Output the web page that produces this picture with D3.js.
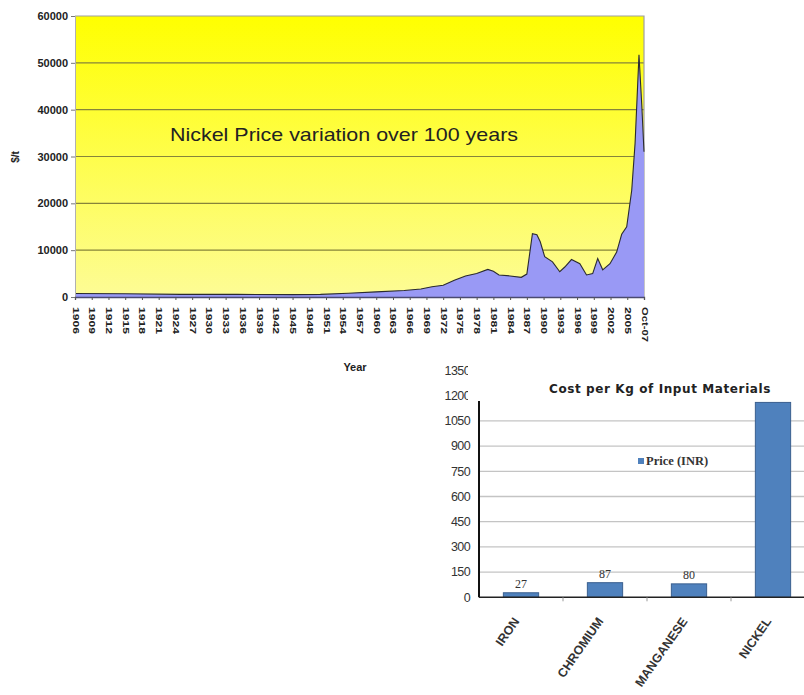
<!DOCTYPE html>
<html>
<head>
<meta charset="utf-8">
<script src="https://cdn.jsdelivr.net/npm/d3@7"></script>
<style>
  body { margin: 0; background: #fff; }
  svg { display: block; }
</style>
</head>
<body>
<svg id="chart" width="804" height="695"></svg>
<script>
// ---- Nickel price, $/t (decimal years; the last points are monthly-ish)
const priceYears = [1906, 1915, 1925, 1935, 1945, 1950, 1955, 1960, 1965, 1968, 1970, 1972, 1974, 1976, 1978, 1980, 1981, 1982, 1984, 1986, 1987, 1988, 1988.8, 1989.4, 1990.2, 1991.6, 1992.9, 1993.8, 1995, 1996.5, 1997.7, 1998.8, 1999.7, 2000.6, 2001.9, 2003.1, 2004, 2004.9, 2005.8, 2006.4, 2007.1, 2007.6, 2008];
const priceValues = [750, 700, 550, 560, 500, 550, 800, 1100, 1400, 1700, 2200, 2500, 3600, 4500, 5000, 5900, 5500, 4700, 4500, 4200, 4900, 13500, 13300, 11800, 8600, 7500, 5400, 6400, 8000, 7100, 4700, 5000, 8200, 5800, 7100, 9600, 13400, 15000, 22800, 32800, 51700, 41000, 31000];

// ---- Year axis tick positions and their labels
const yearTickPos = [1906, 1909, 1912, 1915, 1918, 1921, 1924, 1927, 1930, 1933, 1936, 1939, 1942, 1945, 1948, 1951, 1954, 1957, 1960, 1963, 1966, 1969, 1972, 1975, 1978, 1981, 1984, 1987, 1990, 1993, 1996, 1999, 2002, 2005, 2008];
const yearTickLabels = ["1906", "1909", "1912", "1915", "1918", "1921", "1924", "1927", "1930", "1933", "1936", "1939", "1942", "1945", "1948", "1951", "1954", "1957", "1960", "1963", "1966", "1969", "1972", "1975", "1978", "1981", "1984", "1987", "1990", "1993", "1996", "1999", "2002", "2005", "Oct-07"];
const priceTicks = [0, 10000, 20000, 30000, 40000, 50000, 60000];

// ---- Cost per kg of input materials (INR)
const materials = ["IRON", "CHROMIUM", "MANGANESE", "NICKEL"];
const materialPrices = [27, 87, 80, 1160];
const costTicks = [0, 150, 300, 450, 600, 750, 900, 1050, 1200, 1350];

const svg = d3.select("#chart");
const defs = svg.append("defs");

// ================= Nickel price area chart =================
const P = { left: 75, right: 644, top: 16, bottom: 297 };
const x = d3.scaleLinear().domain([1906, 2008]).range([P.left, P.right]);
const y = d3.scaleLinear().domain([0, 60000]).range([P.bottom, P.top]);

const grad = defs.append("linearGradient")
  .attr("id", "plotBg").attr("x1", 0).attr("y1", 0).attr("x2", 0).attr("y2", 1);
grad.append("stop").attr("offset", "0%").attr("stop-color", "#ffff00");
grad.append("stop").attr("offset", "100%").attr("stop-color", "#fdfc96");

const priceChart = svg.append("g");
priceChart.append("rect")
  .attr("x", P.left).attr("y", P.top)
  .attr("width", P.right - P.left).attr("height", P.bottom - P.top)
  .attr("fill", "url(#plotBg)");

// horizontal gridlines
priceChart.append("g").selectAll("line")
  .data(priceTicks.filter(d => d > 0 && d < 60000))
  .join("line")
  .attr("x1", P.left).attr("x2", P.right)
  .attr("y1", d => y(d)).attr("y2", d => y(d))
  .attr("stroke", "#86843a").attr("stroke-width", 1.1);

// frame (top and right edges)
priceChart.append("path")
  .attr("d", `M${P.left},${P.top}H${P.right}V${P.bottom}`)
  .attr("fill", "none").attr("stroke", "#a0a0a0").attr("stroke-width", 1.2);

const pts = priceYears.map((yr, i) => [yr, priceValues[i]]);
priceChart.append("path")
  .datum(pts)
  .attr("d", d3.area().x(d => x(d[0])).y0(y(0)).y1(d => y(d[1])))
  .attr("fill", "#9999f5");
priceChart.append("path")
  .datum(pts)
  .attr("d", d3.line().x(d => x(d[0])).y(d => y(d[1])))
  .attr("fill", "none").attr("stroke", "#2a2a30").attr("stroke-width", 1.1);

// y axis
const yAxis = priceChart.append("g")
  .attr("transform", `translate(${P.left},0)`)
  .call(d3.axisLeft(y).tickValues(priceTicks).tickSize(4).tickPadding(3).tickFormat(d3.format("d")));
yAxis.select(".domain").attr("stroke", "#b0b0b0");
yAxis.selectAll(".tick line").attr("stroke", "#777");
yAxis.selectAll("text")
  .attr("font-family", "Liberation Sans, Arial, sans-serif")
  .attr("font-size", 11).attr("font-weight", "bold").attr("fill", "#222");

// x axis
const xAxis = priceChart.append("g")
  .attr("transform", `translate(0,${P.bottom})`)
  .call(d3.axisBottom(x).tickValues(yearTickPos).tickSize(3).tickFormat((d, i) => yearTickLabels[i]));
xAxis.select(".domain").attr("stroke", "#4a4a70").attr("stroke-width", 1.3);
xAxis.selectAll(".tick line").attr("stroke", "#555");
xAxis.selectAll("text")
  .attr("font-family", "Liberation Sans, Arial, sans-serif")
  .attr("font-size", 9).attr("font-weight", "bold").attr("fill", "#222")
  .attr("text-anchor", "start").attr("dominant-baseline", "central")
  .attr("y", 0).attr("dy", null)
  .attr("transform", "translate(0,10) rotate(90)")
  .attr("textLength", (d, i) => yearTickLabels[i].length > 4 ? 35 : 27)
  .attr("lengthAdjust", "spacingAndGlyphs");

priceChart.append("text")
  .attr("x", 344).attr("y", 141)
  .attr("text-anchor", "middle")
  .attr("font-family", "Liberation Sans, Arial, sans-serif")
  .attr("font-size", 19).attr("fill", "#222")
  .attr("textLength", 348).attr("lengthAdjust", "spacingAndGlyphs")
  .text("Nickel Price variation over 100 years");

priceChart.append("text")
  .attr("x", 355).attr("y", 371)
  .attr("text-anchor", "middle")
  .attr("font-family", "Liberation Sans, Arial, sans-serif")
  .attr("font-size", 11).attr("font-weight", "bold").attr("fill", "#222")
  .text("Year");

priceChart.append("text")
  .attr("transform", "translate(19,157) rotate(-90)")
  .attr("text-anchor", "middle")
  .attr("font-family", "Liberation Sans, Arial, sans-serif")
  .attr("font-size", 10).attr("font-weight", "bold").attr("fill", "#222")
  .text("$/t");

// ================= Cost per kg bar chart =================
const B = { left: 479, right: 815, plotTop: 401, bottom: 597.3 };
const bx = d3.scaleBand().domain(materials).range([B.left, B.right]).paddingInner(0.58).paddingOuter(0.29);
const by = d3.scaleLinear().domain([0, 1350]).range([B.bottom, B.bottom - 9 * 25.2]);

defs.append("clipPath").attr("id", "barPlot")
  .append("rect").attr("x", B.left).attr("y", B.plotTop).attr("width", 804 - B.left).attr("height", B.bottom - B.plotTop + 1);
// the two top labels sit above the visible plot and are cut on their right side
defs.append("clipPath").attr("id", "costLabelsTop")
  .append("rect").attr("x", 400).attr("y", 355).attr("width", 68).attr("height", 50);

const costChart = svg.append("g");
const plot = costChart.append("g").attr("clip-path", "url(#barPlot)");

plot.append("g").selectAll("line")
  .data(costTicks.filter(d => d > 0))
  .join("line")
  .attr("x1", B.left).attr("x2", 804)
  .attr("y1", d => by(d)).attr("y2", d => by(d))
  .attr("stroke", "#c4c4c4").attr("stroke-width", 1.3);

plot.append("g").selectAll("rect")
  .data(materials)
  .join("rect")
  .attr("x", d => bx(d))
  .attr("width", bx.bandwidth())
  .attr("y", (d, i) => by(materialPrices[i]))
  .attr("height", (d, i) => by(0) - by(materialPrices[i]))
  .attr("fill", "#4f81bd").attr("stroke", "#3a5f8f").attr("stroke-width", 1);

// value labels only where they land inside the visible plot
const labelled = materials
  .map((m, i) => ({ m, v: materialPrices[i] }))
  .filter(d => by(d.v) - 5 - 12 > B.plotTop);
plot.append("g").selectAll("text")
  .data(labelled)
  .join("text")
  .attr("x", d => bx(d.m) + bx.bandwidth() / 2)
  .attr("y", d => by(d.v) - 5)
  .attr("text-anchor", "middle")
  .attr("font-family", "Liberation Serif, Times New Roman, serif")
  .attr("font-size", 12).attr("fill", "#333")
  .text(d => d.v);

// y axis of the bar chart
costChart.append("line")
  .attr("x1", B.left).attr("x2", B.left)
  .attr("y1", B.plotTop).attr("y2", B.bottom)
  .attr("stroke", "#111").attr("stroke-width", 2);
const tickLabel = sel => sel
  .attr("x", 470).attr("y", d => by(d))
  .attr("dy", "0.35em")
  .attr("text-anchor", "end")
  .attr("font-family", "Liberation Sans, Arial, sans-serif")
  .attr("font-size", 12.5).attr("letter-spacing", -0.6).attr("fill", "#333")
  .text(d => d);
costChart.append("g")
  .selectAll("text")
  .data(costTicks.filter(d => d < 1200))
  .join("text")
  .call(tickLabel);
costChart.append("g").attr("clip-path", "url(#costLabelsTop)")
  .selectAll("text")
  .data(costTicks.filter(d => d >= 1200))
  .join("text")
  .call(tickLabel);

// x axis of the bar chart
costChart.append("line")
  .attr("x1", B.left).attr("x2", 804)
  .attr("y1", B.bottom).attr("y2", B.bottom)
  .attr("stroke", "#222").attr("stroke-width", 1.5);
costChart.append("g").selectAll("line")
  .data(materials.slice(1))
  .join("line")
  .attr("x1", d => bx(d) - bx.step() * bx.paddingInner() / 2)
  .attr("x2", d => bx(d) - bx.step() * bx.paddingInner() / 2)
  .attr("y1", B.bottom).attr("y2", B.bottom + 4)
  .attr("stroke", "#999");
costChart.append("g").selectAll("text")
  .data(materials)
  .join("text")
  .attr("transform", d => `translate(${bx(d) + bx.bandwidth() / 2 - 1},${B.bottom + 24}) rotate(-55)`)
  .attr("text-anchor", "end")
  .attr("font-family", "Liberation Sans, Arial, sans-serif")
  .attr("font-size", 12.5).attr("font-weight", "bold").attr("fill", "#333")
  .text(d => d);

costChart.append("text")
  .attr("x", 660).attr("y", 393)
  .attr("text-anchor", "middle")
  .attr("font-family", "Comic Sans MS, DejaVu Sans, sans-serif")
  .attr("font-size", 12).attr("font-weight", "bold").attr("fill", "#222")
  .attr("letter-spacing", 0.6)
  .text("Cost per Kg of Input Materials");

// legend
costChart.append("rect")
  .attr("x", 638).attr("y", 458).attr("width", 6).attr("height", 6)
  .attr("fill", "#4f81bd");
costChart.append("text")
  .attr("x", 646).attr("y", 465)
  .attr("font-family", "Liberation Serif, Times New Roman, serif")
  .attr("font-size", 12.5).attr("font-weight", "bold").attr("fill", "#333")
  .text("Price (INR)");
</script>
</body>
</html>
